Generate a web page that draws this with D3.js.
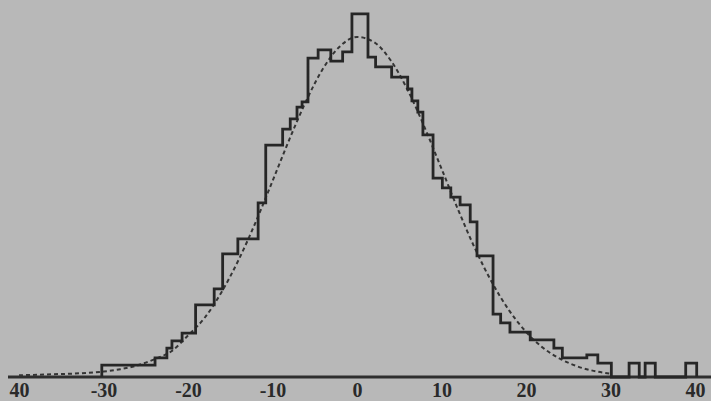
<!DOCTYPE html>
<html>
<head>
<meta charset="utf-8">
<script src="https://cdn.jsdelivr.net/npm/d3@7"></script>
<style>
  html, body { margin: 0; padding: 0; background: #b8b8b8; }
  svg { display: block; }
</style>
</head>
<body>
<svg id="chart" width="711" height="401"></svg>
<script>
// Histogram: bin edges (x units) and the frequency in each bin
const binEdges = [-30.2,-23.9,-22.5,-21.9,-20.7,-19.1,-16.9,-15.9,-14.1,-11.7,-10.8,-8.8,-7.9,-7.1,-6.5,-5.8,-4.6,-3.1,-1.7,-0.6,1.3,2.2,4.1,6.0,6.5,7.2,7.8,9.0,10.1,11.1,12.2,13.4,14.2,16.1,17.0,18.1,20.5,23.3,24.3,27.2,28.5,30.1,32.2,33.4,34.1,35.3,38.9,40.2];
const counts = [3.5,5.6,8.5,10.6,12.9,21.2,25.9,36.2,40.6,51.2,68.2,72.9,75.9,79.4,80.9,93.8,96.2,92.9,95.6,106.8,94.1,91.2,88.2,84.7,81.2,77.9,71.2,58.5,55.6,52.9,50.6,45.6,35.6,18.5,15.9,13.2,10.9,8.5,5.6,6.5,4.1,0,4.1,0,4.1,0,4.1];

// Dashed fitted curve
const curveX = [-40,-36,-32,-30,-28,-26,-24,-22,-20,-18,-16,-14,-12,-10,-8,-6,-4,-2,0,2,4,6,8,10,12,14,16,18,20,22,24,26,28,30];
const curveY = [0.5,0.8,1.2,1.6,2.3,3.4,5.2,7.5,12.2,17.5,25.1,34.5,45.5,57.6,69.9,81.3,90.8,97.3,100,98.5,93.1,84.4,73.4,61.3,49.0,37.6,27.7,19.6,13.3,8.6,5.4,3.2,1.8,1.0];

// Axis tick values and labels (as printed)
const tickValues = [-40,-30,-20,-10,0,10,20,30,40];
const tickLabels = ["40","-30","-20","-10","0","10","20","30","40"];

const svg = d3.select("#chart");
const x = d3.scaleLinear().domain([-40, 40]).range([19, 695]);
const y = d3.scaleLinear().domain([0, 100]).range([377, 37]);

svg.append("rect").attr("width", 711).attr("height", 401).attr("fill", "#b8b8b8");

// baseline
svg.append("line")
  .attr("x1", 8).attr("x2", 711)
  .attr("y1", y(0)).attr("y2", y(0))
  .attr("stroke", "#2e2e2e").attr("stroke-width", 3.2);

// dashed curve
const curvePts = curveX.map((v, i) => [v, curveY[i]]);
svg.append("path")
  .attr("d", d3.line().x(d => x(d[0])).y(d => y(d[1])).curve(d3.curveMonotoneX)(curvePts))
  .attr("fill", "none")
  .attr("stroke", "#353535")
  .attr("stroke-width", 2)
  .attr("stroke-dasharray", "4,3");

// histogram step outline
const stepPts = [[binEdges[0], 0]];
counts.forEach((c, i) => {
  stepPts.push([binEdges[i], c]);
  stepPts.push([binEdges[i + 1], c]);
});
stepPts.push([binEdges[binEdges.length - 1], 0]);
svg.append("path")
  .attr("d", d3.line().x(d => x(d[0])).y(d => y(d[1]))(stepPts))
  .attr("fill", "none")
  .attr("stroke", "#262626")
  .attr("stroke-width", 2.8)
  .attr("stroke-linejoin", "miter");

// axis labels
const axis = d3.axisBottom(x)
  .tickValues(tickValues)
  .tickSize(0)
  .tickFormat((d, i) => tickLabels[i]);
const g = svg.append("g").attr("transform", "translate(0,397)").call(axis);
g.select(".domain").remove();
g.selectAll("text")
  .attr("y", 0)
  .attr("dy", 0)
  .attr("font-family", "'Liberation Serif','DejaVu Serif',serif")
  .attr("font-size", 20)
  .attr("font-weight", "bold")
  .attr("fill", "#2a2a2a");
</script>
</body>
</html>
